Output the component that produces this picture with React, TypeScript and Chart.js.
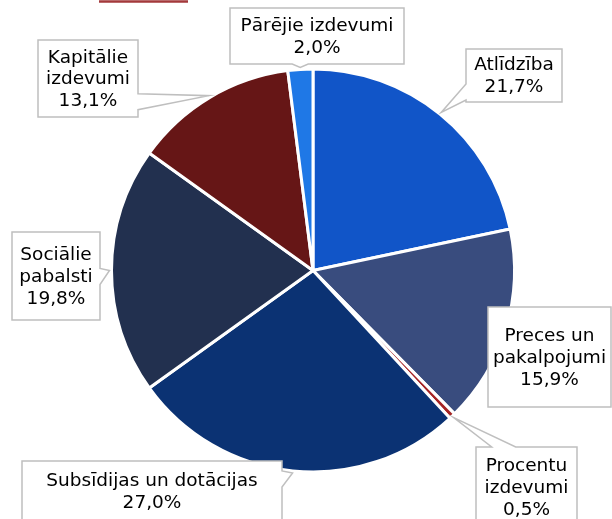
import React, { useEffect, useRef } from "react";
import { Chart, registerables } from "chart.js";

Chart.register(...registerables);

const categories = [
  "Atlīdzība",
  "Preces un pakalpojumi",
  "Procentu izdevumi",
  "Subsīdijas un dotācijas",
  "Sociālie pabalsti",
  "Kapitālie izdevumi",
  "Pārējie izdevumi",
];
const shares = [21.7, 15.9, 0.5, 27.0, 19.8, 13.1, 2.0];
const labelLines = [
  ["Atlīdzība"],
  ["Preces un", "pakalpojumi"],
  ["Procentu", "izdevumi"],
  ["Subsīdijas un dotācijas"],
  ["Sociālie", "pabalsti"],
  ["Kapitālie", "izdevumi"],
  ["Pārējie izdevumi"],
];
const colors = ["#1155C8", "#394C7E", "#A42323", "#0B3273", "#22304F", "#661616", "#1F78E6"];

// label box layout: [left, top, width, height] (pixels on the canvas)
const boxLayout = [
  [466, 49, 96, 53],
  [488, 307, 123, 100],
  [476, 447, 101, 80],
  [22, 461, 260, 60],
  [12, 232, 88, 88],
  [38, 40, 100, 77],
  [230, 8, 174, 56],
];

const fmt = (v: number) => v.toFixed(1).replace(".", ",") + "%";

const calloutPlugin = {
  id: "callouts",
  afterDatasetsDraw(chart: any) {
    const ctx = chart.ctx;
    const meta = chart.getDatasetMeta(0);
    ctx.save();
    ctx.strokeStyle = "#A3393B";
    ctx.lineWidth = 2.5;
    ctx.beginPath();
    ctx.moveTo(99, 1.5);
    ctx.lineTo(188, 1.5);
    ctx.stroke();

    meta.data.forEach((arc: any, i: number) => {
      const p = arc.getProps(["x", "y", "startAngle", "endAngle", "outerRadius"], true);
      const mid = (p.startAngle + p.endAngle) / 2;
      const ax = p.x + Math.cos(mid) * (p.outerRadius + 2);
      const ay = p.y + Math.sin(mid) * (p.outerRadius + 2);
      const [bx, by, bw, bh] = boxLayout[i];
      const x0 = bx, y0 = by, x1 = bx + bw, y1 = by + bh;
      let side = "";
      const dl = x0 - ax, dr = ax - x1, dt = y0 - ay, db = ay - y1;
      const m = Math.max(dl, dr, dt, db);
      if (m > 0) {
        if (m === dl) side = "left";
        else if (m === dr) side = "right";
        else if (m === dt) side = "top";
        else side = "bottom";
      }
      const hw = 8;
      const clamp = (v: number, a: number, b: number) => Math.max(a, Math.min(b, v));
      ctx.beginPath();
      ctx.moveTo(x0, y0);
      if (side === "top") {
        const c = clamp(ax + 50, x0 + hw + 4, x1 - hw - 4);
        ctx.lineTo(c - hw - 4, y0);
        ctx.lineTo(ax, ay);
        ctx.lineTo(c + hw + 4, y0);
      }
      ctx.lineTo(x1, y0);
      if (side === "right") {
        const c = clamp(ay + 6, y0 + hw + 2, y1 - hw - 2);
        ctx.lineTo(x1, c - hw);
        ctx.lineTo(ax, ay);
        ctx.lineTo(x1, c + hw);
      }
      ctx.lineTo(x1, y1);
      if (side === "bottom") {
        const c = clamp(ax, x0 + hw + 2, x1 - hw - 2);
        ctx.lineTo(c + hw, y1);
        ctx.lineTo(ax, ay);
        ctx.lineTo(c - hw, y1);
      }
      ctx.lineTo(x0, y1);
      if (side === "left") {
        const c = clamp(ay - 6, y0 + hw + 2, y1 - hw - 2);
        ctx.lineTo(x0, c + hw);
        ctx.lineTo(ax, ay);
        ctx.lineTo(x0, c - hw);
      }
      ctx.closePath();
      ctx.fillStyle = "#FFFFFF";
      ctx.fill();
      ctx.strokeStyle = "#BFBFBF";
      ctx.lineWidth = 1.5;
      ctx.stroke();

      const lines = [...labelLines[i], fmt(shares[i])];
      const lh = 21.7;
      ctx.fillStyle = "#000000";
      ctx.font = '18.5px "DejaVu Sans", Verdana, sans-serif';
      ctx.textAlign = "center";
      ctx.textBaseline = "middle";
      const cx = bx + bw / 2;
      const cy = by + bh / 2 + 1;
      lines.forEach((t, k) => {
        ctx.fillText(t, cx, cy + (k - (lines.length - 1) / 2) * lh);
      });
    });
    ctx.restore();
  },
};

export default function App() {
  const ref = useRef<HTMLCanvasElement>(null);
  useEffect(() => {
    document.body.style.margin = "0";
    const chart = new Chart(ref.current!, {
      type: "pie",
      data: {
        labels: categories,
        datasets: [
          {
            data: shares,
            backgroundColor: colors,
            borderColor: "#FFFFFF",
            borderWidth: 3,
          },
        ],
      },
      options: {
        animation: false,
        responsive: false,
        layout: { padding: { left: 110, right: 96, top: 67, bottom: 45 } },
        plugins: {
          legend: { display: false },
          tooltip: { enabled: false },
          title: { display: false },
        },
      },
      plugins: [calloutPlugin],
    });
    return () => chart.destroy();
  }, []);
  return (
    <div style={{ width: 612, height: 519, background: "#fff" }}>
      <canvas ref={ref} width={612} height={519} style={{ display: "block" }} />
    </div>
  );
}
